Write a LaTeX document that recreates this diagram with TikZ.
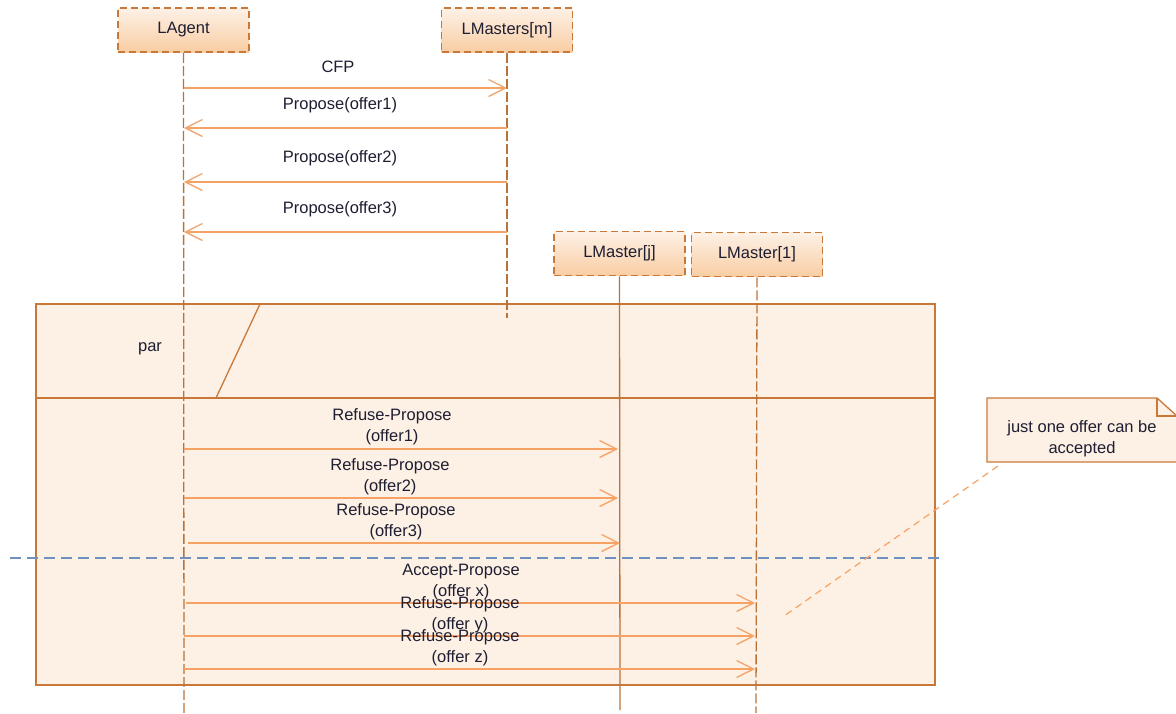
\documentclass[tikz,border=0pt]{standalone}
\usepackage{fontspec}
\setmainfont{Liberation Sans}
\usetikzlibrary{arrows.meta}
\definecolor{edge}{HTML}{C8793A}
\definecolor{life}{HTML}{B8733A}
\definecolor{msg}{HTML}{F6A265}
\definecolor{framefill}{HTML}{FDF0E5}
\definecolor{boxtop}{HTML}{FDF1E6}
\definecolor{boxbot}{HTML}{F9CDA3}
\definecolor{sep}{HTML}{7090C0}
\definecolor{ink}{HTML}{1E1E32}
\tikzset{
  actor/.style={draw=edge, line width=1.8pt, dash pattern=on 7pt off 4pt,
    top color=boxtop, bottom color=boxbot, minimum width=131pt, minimum height=44pt,
    font=\fontsize{16.5}{20}\selectfont, text=ink, inner sep=0pt},
  lifeline/.style={draw=life, line width=1.3pt, dash pattern=on 10pt off 3pt},
  solidlife/.style={draw=life, line width=1.3pt},
  message/.style={draw=msg, line width=1.3pt, -{Straight Barb[length=17pt,width=17pt,line width=1.3pt]}},
  label/.style={font=\fontsize{16.5}{21}\selectfont, text=ink, align=center, inner sep=0pt},
  frameline/.style={draw=edge, line width=1.3pt},
}
\begin{document}
\begin{tikzpicture}[x=1pt,y=-1pt]
\useasboundingbox (0,0) rectangle (1176,713);

% combined fragment (par)
\filldraw[frameline, fill=framefill] (36,304) rectangle (935,685);
\draw[frameline] (36,398) -- (935,398);
\draw[frameline] (260,304) -- (216,398);
\node[label] (parlabel) at (150,349) {par};

% lifeline heads
\node[actor] (agent) at (183.5,30) {LAgent};
\node[actor] (mastersm) at (507,30) {LMasters[m]};
\node[actor] (masterj) at (619.5,253.5) {LMaster[j]};
\node[actor] (master1) at (757,254.5) {LMaster[1]};

% lifeline ends
\coordinate (agentend) at (184,713);
\coordinate (mastersmend) at (507,318);
\coordinate (masterjend) at (620,710);
\coordinate (master1end) at (756,713);

\draw[lifeline] (agent.south) -- (agentend);
\draw[lifeline] (mastersm.south) -- (mastersmend);
\draw[solidlife] (masterj.south) -- (masterjend);
\draw[lifeline] (master1.south) -- (master1end);

% separator between operands
\coordinate (sepl) at (10,558);
\coordinate (sepr) at (942,558);
\draw[draw=sep, line width=1.2pt, dash pattern=on 11pt off 6pt] (sepl) -- (sepr);

% message end points
\coordinate (a1) at (184,88);   \coordinate (m1) at (507,88);
\coordinate (a2) at (184,128);  \coordinate (m2) at (507,128);
\coordinate (a3) at (184,182);  \coordinate (m3) at (507,182);
\coordinate (a4) at (184,232);  \coordinate (m4) at (507,232);
\coordinate (a5) at (184,449);  \coordinate (j5) at (618,449);
\coordinate (a6) at (184,498);  \coordinate (j6) at (618,498);
\coordinate (a7) at (188,543);  \coordinate (j7) at (620,543);
\coordinate (a8) at (186,603);  \coordinate (o8) at (755,603);
\coordinate (a9) at (184,636);  \coordinate (o9) at (755,636);
\coordinate (a10) at (184,669); \coordinate (o10) at (755,669);

\draw[message] (a1) -- (m1);
\draw[message] (m2) -- (a2);
\draw[message] (m3) -- (a3);
\draw[message] (m4) -- (a4);
\draw[message] (a5) -- (j5);
\draw[message] (a6) -- (j6);
\draw[message] (a7) -- (j7);
\draw[message] (a8) -- (o8);
\draw[message] (a9) -- (o9);
\draw[message] (a10) -- (o10);

% message labels
\node[label] (l1) at (338,67) {CFP};
\node[label] (l2) at (340,105) {Propose(offer1)};
\node[label] (l3) at (340,158) {Propose(offer2)};
\node[label] (l4) at (340,209) {Propose(offer3)};
\node[label] (l5) at (392,427) {Refuse-Propose\\(offer1)};
\node[label] (l6) at (390,477) {Refuse-Propose\\(offer2)};
\node[label] (l7) at (396,522) {Refuse-Propose\\(offer3)};
\node[label] (l8) at (461,582) {Accept-Propose\\(offer x)};
\node[label] (l9) at (460,615) {Refuse-Propose\\(offer y)};
\node[label] (l10) at (460,648) {Refuse-Propose\\(offer z)};

% note with folded corner
\filldraw[frameline, fill=framefill] (987,398) -- (1157,398) -- (1177,416) -- (1177,462) -- (987,462) -- cycle;
\draw[frameline] (1157,398) -- (1157,416) -- (1177,416);
\node[label, font=\fontsize{16.5}{21}\selectfont] (note) at (1082,439) {just one offer can be\\accepted};
\coordinate (notetail) at (998,466);
\coordinate (notetip) at (784,616);
\draw[draw=msg, line width=1.2pt, dash pattern=on 7pt off 5pt] (notetail) -- (notetip);
\end{tikzpicture}
\end{document}
